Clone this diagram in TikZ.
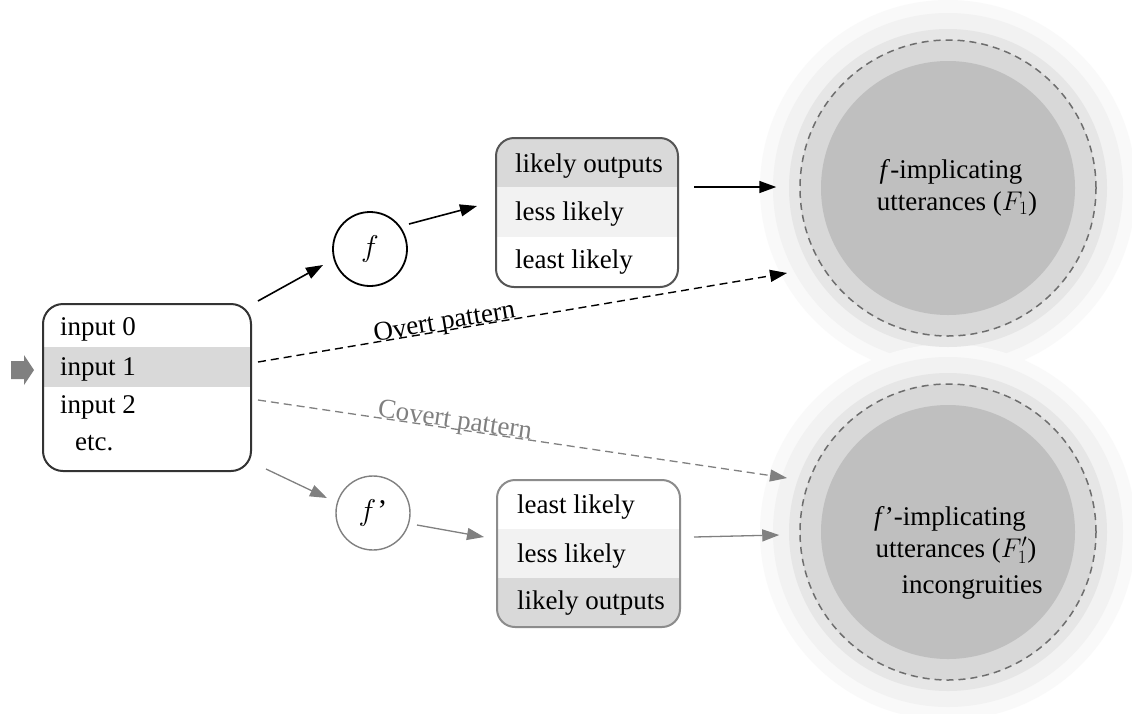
\RequirePackage{fix-cm}
\documentclass[tikz,border=0pt]{standalone}
\usepackage{fontspec}
\setmainfont{Liberation Serif}
\usetikzlibrary{arrows.meta}
\definecolor{band}{HTML}{D9D9D9}
\definecolor{pale}{HTML}{F2F2F2}
\definecolor{lgray}{HTML}{808080}
\definecolor{boxdark}{HTML}{333333}
\definecolor{boxmid}{HTML}{555555}
\definecolor{boxlight}{HTML}{8C8C8C}
\definecolor{circdark}{HTML}{BFBFBF}
\definecolor{circring}{HTML}{D8D8D8}
\definecolor{haloa}{HTML}{E6E6E6}
\definecolor{halob}{HTML}{F2F2F2}
\definecolor{haloc}{HTML}{F9F9F9}
\definecolor{dashgray}{HTML}{6E6E6E}
\begin{document}
\begin{tikzpicture}[x=1pt,y=-1pt,
  every node/.style={font=\fontsize{27}{32}\selectfont},
  txt/.style={inner sep=0pt, anchor=base west},
  ctxt/.style={inner sep=0pt, anchor=base},
  blkarr/.style={draw=black, line width=1.6pt, -{Triangle[length=17pt,width=12pt]}},
  gryarr/.style={draw=lgray, line width=1.3pt, -{Triangle[length=17pt,width=12pt]}},
  dsh/.style={dash pattern=on 8pt off 5pt},
  funcnode/.style={circle, line width=1.8pt, minimum size=74pt, inner sep=0pt, font=\fontsize{30}{34}\selectfont},
  bigcirc/.style={circle, draw=dashgray, line width=1.5pt, dash pattern=on 7pt off 5pt, minimum size=296pt, inner sep=0pt}
]
\useasboundingbox (0,0) rectangle (1132,713);
\fill[white] (0,0) rectangle (1132,713);

% halos of the two big circles
\foreach \cy in {188,532}{
  \fill[haloc] (948,\cy) circle (188);
  \fill[halob] (948,\cy) circle (175);
}
\foreach \cy in {188,532}{
  \fill[haloa] (948,\cy) circle (159);
  \fill[circring] (948,\cy) circle (148);
  \fill[circdark] (948,\cy) circle (127);
}
\node[bigcirc] (C1) at (948,188) {};
\node[bigcirc] (C2) at (948,532) {};

\node[ctxt] (c1a) at (951,178) {\textit{f}-implicating};
\node[ctxt] (c1b) at (957,210) {utterances ($F_1$)};
\node[ctxt] (c2a) at (950,525) {\textit{f}’-implicating};
\node[ctxt] (c2b) at (956,557) {utterances ($F'_1$)};
\node[ctxt] (c2c) at (972,593) {incongruities};

% input box
\begin{scope}
  \clip[rounded corners=20pt] (43,304) rectangle (251,471);
  \fill[band] (43,347) rectangle (251,387);
\end{scope}
\node[draw=boxdark, line width=2pt, rounded corners=20pt, minimum width=208pt, minimum height=167pt, inner sep=0pt] (inp) at (147,387.5) {};
\node[txt] (i0) at (60,335) {input 0};
\node[txt] (i1) at (60,375) {input 1};
\node[txt] (i2) at (60,413) {input 2};
\node[txt] (ie) at (75,450) {etc.};

% entry block arrow
\fill[lgray] (11,361) -- (24,361) -- (24,355) -- (34,370) -- (24,385) -- (24,379) -- (11,379) -- cycle;

% upper output box
\begin{scope}
  \clip[rounded corners=18pt] (496,138) rectangle (678,287);
  \fill[band] (496,138) rectangle (678,187);
  \fill[pale] (496,187) rectangle (678,237);
\end{scope}
\node[draw=boxmid, line width=2pt, rounded corners=18pt, minimum width=182pt, minimum height=149pt, inner sep=0pt] (ob) at (587,212.5) {};
\node[txt] (o1) at (515,172) {likely outputs};
\node[txt] (o2) at (515,220) {less likely};
\node[txt] (o3) at (515,268) {least likely};

% lower output box
\begin{scope}
  \clip[rounded corners=18pt] (497,480) rectangle (680,627);
  \fill[pale] (497,529) rectangle (680,578);
  \fill[band] (497,578) rectangle (680,627);
\end{scope}
\node[draw=boxlight, line width=2pt, rounded corners=18pt, minimum width=183pt, minimum height=147pt, inner sep=0pt] (ub) at (588.5,553.5) {};
\node[txt] (u1) at (517,513) {least likely};
\node[txt] (u2) at (517,562) {less likely};
\node[txt] (u3) at (517,609) {likely outputs};

% function nodes
\node[funcnode, draw=black] (f) at (370,249) {$f$};
\node[funcnode, draw=lgray, line width=1.4pt] (fp) at (373,513) {$f$\kern1pt’};

% connectors
\draw[blkarr] ([shift={(6,-2)}]inp.north east) -- ([shift={(-47,16)}]f.center);
\draw[blkarr] ([shift={(39,-25)}]f.center) -- ([shift={(-18,-6.5)}]ob.west);
\draw[blkarr] ([shift={(15,-25.5)}]ob.east) -- ([shift={(-23,-1)}]C1.west);
\draw[blkarr, line width=1.4pt, dsh] ([shift={(6,-25.5)}]inp.east) -- node[sloped, pos=0.355, anchor=base, inner sep=0pt, yshift=1pt] (ovl) {Overt pattern} ([shift={(-161,85)}]C1.center);
\draw[gryarr, dsh] ([shift={(6,12.5)}]inp.east) -- node[sloped, pos=0.37, anchor=base, inner sep=0pt, yshift=1pt, text=lgray] (cvl) {Covert pattern} ([shift={(-161,-54)}]C2.center);
\draw[gryarr] ([shift={(14,-3)}]inp.south east) -- ([shift={(-46,-15)}]fp.center);
\draw[gryarr] ([shift={(44,12)}]fp.center) -- ([shift={(-12,-16.5)}]ub.west);
\draw[gryarr] ([shift={(13,-16.5)}]ub.east) -- ([shift={(-20,3)}]C2.west);
\end{tikzpicture}
\end{document}
